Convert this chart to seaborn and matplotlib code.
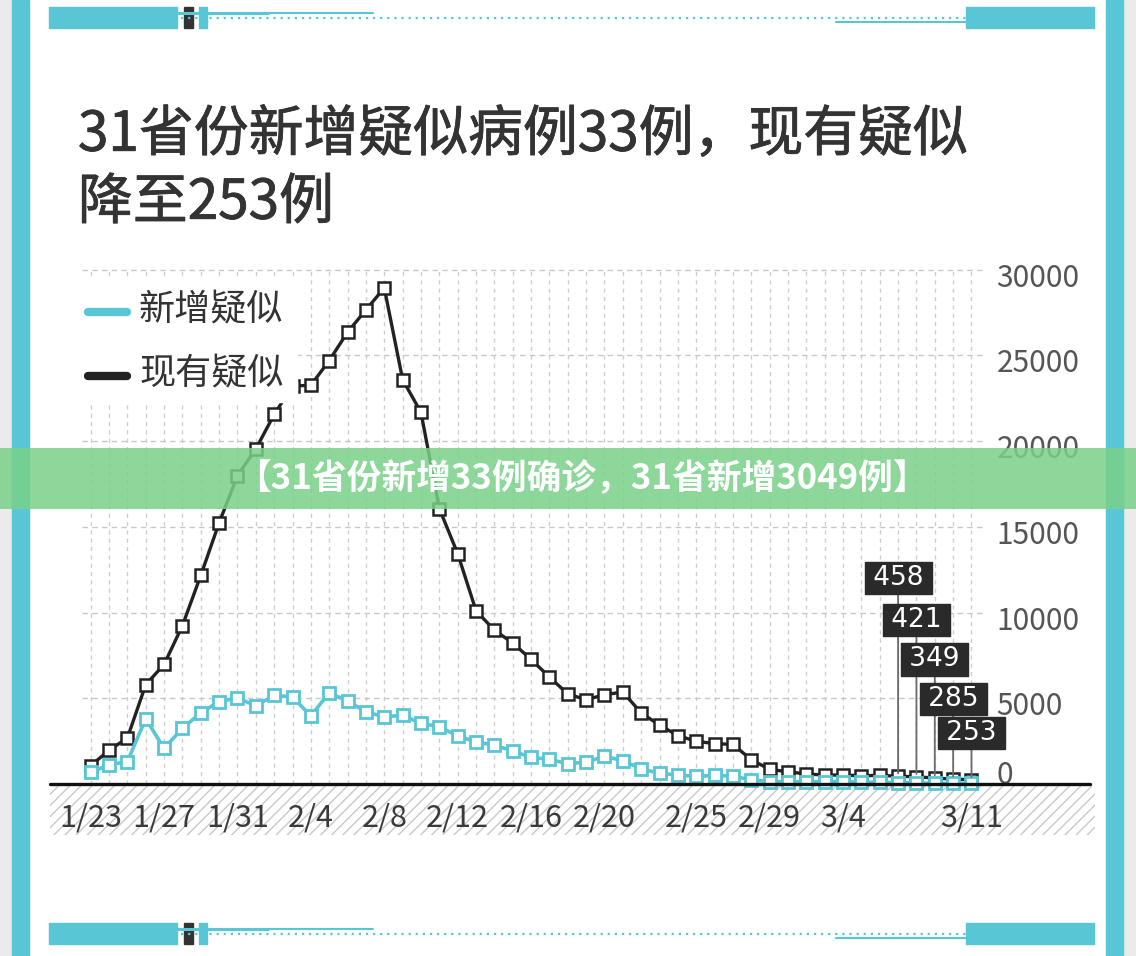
import pandas as pd
import numpy as np
import matplotlib
matplotlib.use("Agg")
import matplotlib.pyplot as plt
import matplotlib.transforms as mtransforms
import matplotlib.patheffects as pe
from matplotlib.patches import Rectangle
from matplotlib.lines import Line2D
import seaborn as sns

dates = pd.date_range("2020-01-23", "2020-03-11", freq="D")
day_labels = [f"{d.month}/{d.day}" for d in dates]

new_suspected = [680, 1118, 1309, 3806, 2077, 3248, 4148, 4812, 5019, 4562,
                 5173, 5072, 3971, 5328, 4833, 4214, 3916, 4008, 3536, 3342,
                 2807, 2450, 2277, 1918, 1563, 1432, 1185, 1277, 1614, 1361,
                 882, 620, 530, 439, 508, 452, 248, 132, 141, 129,
                 143, 143, 102, 99, 84, 60, 36, 31, 33]
current_suspected = [1072, 1965, 2684, 5794, 6973, 9239, 12167, 15238, 17988, 19544,
                     21558, 23214, 23260, 24702, 26359, 27657, 28942, 23589, 21675, 16067,
                     13435, 10109, 8969, 8228, 7264, 6242, 5248, 4922, 5206, 5365,
                     4148, 3434, 2824, 2491, 2358, 2308, 1418, 851, 715, 587,
                     520, 522, 482, 502, 458, 421, 349, 285, 253]

shown_ticks = ["1/23", "1/27", "1/31", "2/4", "2/8", "2/12", "2/16", "2/20",
               "2/25", "2/29", "3/4", "3/11"]
y_ticks = [0, 5000, 10000, 15000, 20000, 25000, 30000]

series_names = ["新增疑似", "现有疑似"]
title_lines = ["31省份新增疑似病例33例，现有疑似", "降至253例"]
banner_text = "【31省份新增33例确诊，31省新增3049例】"

# label box heights for the last five days (data units)
label_heights = [12000, 9550, 7270, 4940, 2960]

CYAN = "#58c6d4"
DARK = "#222222"
W, H = 1136, 956


def fx(x):
    return x / W


def fy(y):
    return 1 - y / H


sns.set_theme(style="white")
plt.rcParams["font.family"] = ["Noto Sans CJK SC", "DejaVu Sans"]
CJK = ["Noto Sans CJK SC", "DejaVu Sans"]

df = pd.DataFrame({
    "day": np.arange(len(dates)),
    "new": new_suspected,
    "current": current_suspected,
})

fig = plt.figure(figsize=(W / 100, H / 100), dpi=100)
fig.patch.set_facecolor("#ebebeb")

# page decoration
fig.add_artist(Rectangle((fx(29), 0), fx(1106) - fx(29), 1, color="white", zorder=-3))
for x0, x1 in [(12, 29), (1106, 1123)]:
    fig.add_artist(Rectangle((fx(x0), 0), fx(x1) - fx(x0), 1, color=CYAN, zorder=-2))

for top in [7, 923]:
    bot = top + 21
    fig.add_artist(Rectangle((fx(49), fy(bot)), fx(177) - fx(49), fy(top) - fy(bot), color=CYAN))
    fig.add_artist(Rectangle((fx(966), fy(bot)), fx(1094) - fx(966), fy(top) - fy(bot), color=CYAN))
    fig.add_artist(Rectangle((fx(184), fy(bot)), fx(193) - fx(184), fy(top) - fy(bot), color="#333333"))
    fig.add_artist(Rectangle((fx(199), fy(bot)), fx(207) - fx(199), fy(top) - fy(bot), color=CYAN))
    fig.add_artist(Line2D([fx(177), fx(268)], [fy(top + 6), fy(top + 6)], color=CYAN, lw=2.2))
    fig.add_artist(Line2D([fx(268), fx(373)], [fy(top + 6), fy(top + 6)], color=CYAN, lw=1.5))
    fig.add_artist(Line2D([fx(181), fx(966)], [fy(top + 11), fy(top + 11)], color=CYAN, lw=1.6,
                          ls=(0, (1, 2.2))))
    fig.add_artist(Line2D([fx(836), fx(966)], [fy(top + 15), fy(top + 15)], color=CYAN, lw=1.5))

# title (regular weight thickened a little to look medium)
stroke = [pe.withStroke(linewidth=0.6, foreground="#333333")]
fig.text(fx(78), fy(135), title_lines[0], family=CJK, fontsize=39.5, color="#333333",
         va="center", ha="left", path_effects=stroke)
fig.text(fx(78), fy(203), title_lines[1], family=CJK, fontsize=39.5, color="#333333",
         va="center", ha="left", path_effects=stroke)

# main axes
ax = fig.add_axes([fx(81.5), fy(784), fx(982.5) - fx(81.5), fy(268) - fy(784)])
ax.set_facecolor("white")

sns.lineplot(data=df, x="day", y="current", ax=ax, color=DARK, lw=2.4,
             marker="s", markersize=8.8, markerfacecolor="white", markeredgecolor=DARK,
             markeredgewidth=1.8, clip_on=False, zorder=3)
sns.lineplot(data=df, x="day", y="new", ax=ax, color=CYAN, lw=2.6,
             marker="s", markersize=8.8, markerfacecolor="white", markeredgecolor=CYAN,
             markeredgewidth=2.0, clip_on=False, zorder=4)

ax.set_xlim(-0.5, len(dates) - 1 + 0.6)
ax.set_ylim(0, 30100)
ax.set_xlabel("")
ax.set_ylabel("")
for s in ax.spines.values():
    s.set_visible(False)

tick_pos = [day_labels.index(t) for t in shown_ticks]
ax.set_xticks(tick_pos)
ax.set_xticklabels(shown_ticks)
ax.set_xticks(df["day"], minor=True)
ax.tick_params(axis="x", which="both", length=0, pad=13, labelsize=22, labelcolor="#3a3a3a")

ax.set_yticks(y_ticks)
ax.set_yticklabels([str(v) for v in y_ticks])
ax.yaxis.tick_right()
ax.tick_params(axis="y", length=0, pad=10, labelsize=21.5, labelcolor="#555555")
for lab, v in zip(ax.get_yticklabels(), y_ticks):
    dy = 12 / 100 if v == 0 else -5 / 100
    lab.set_transform(lab.get_transform() + mtransforms.ScaledTranslation(0, dy, fig.dpi_scale_trans))

ax.grid(True, axis="x", which="both", ls=(0, (3, 3)), color="#cfcfcf", lw=1)
ax.grid(True, axis="y", which="major", ls=(0, (4, 3)), color="#c8c8c8", lw=1)
ax.set_axisbelow(True)

# value boxes for the last five days
last = df.tail(len(label_heights))
for (day, val), ly in zip(zip(last["day"], last["current"]), label_heights):
    ax.annotate(f"\u2009{val}\u2009", xy=(day, val), xytext=(day, ly), ha="center", va="center",
                color="white", fontsize=19, family="DejaVu Sans", zorder=6,
                annotation_clip=False,
                bbox=dict(boxstyle="square,pad=0.12", fc="#2a2a2a", ec="#2a2a2a"),
                arrowprops=dict(arrowstyle="-", color="#6a6a6a", lw=1.3, shrinkA=0, shrinkB=2))

# baseline and hatched footer
fig.add_artist(Rectangle((fx(50), fy(835)), fx(1095) - fx(50), fy(786) - fy(835),
                         facecolor="white", edgecolor="#c9c9c9", hatch="///", lw=0, zorder=-1))
fig.add_artist(Line2D([fx(50), fx(1090)], [fy(784), fy(784)], color="#111111", lw=2.4, zorder=2))

# legend drawn on a white patch above the lines
fig.add_artist(Rectangle((fx(70), fy(402)), fx(297) - fx(70), fy(280) - fy(402),
                         color="white", zorder=2))
for name, col, y in zip(series_names, [CYAN, DARK], [312, 376]):
    fig.add_artist(Line2D([fx(88), fx(127)], [fy(y), fy(y)], color=col, lw=6,
                          solid_capstyle="round", zorder=3))
    fig.text(fx(139), fy(y - 2), name, family=CJK, fontsize=26, color="#333333",
             va="center", ha="left", zorder=3)

# green banner across the picture
fig.add_artist(Rectangle((0, fy(509)), 1, fy(448) - fy(509), color="#79d188",
                         alpha=0.85, lw=0, zorder=8))
fig.text(fx(582), fy(479), banner_text, family=CJK, fontsize=25, weight="bold",
         color="white", ha="center", va="center", zorder=9)

fig.savefig("out.png", dpi=100, facecolor=fig.get_facecolor())
